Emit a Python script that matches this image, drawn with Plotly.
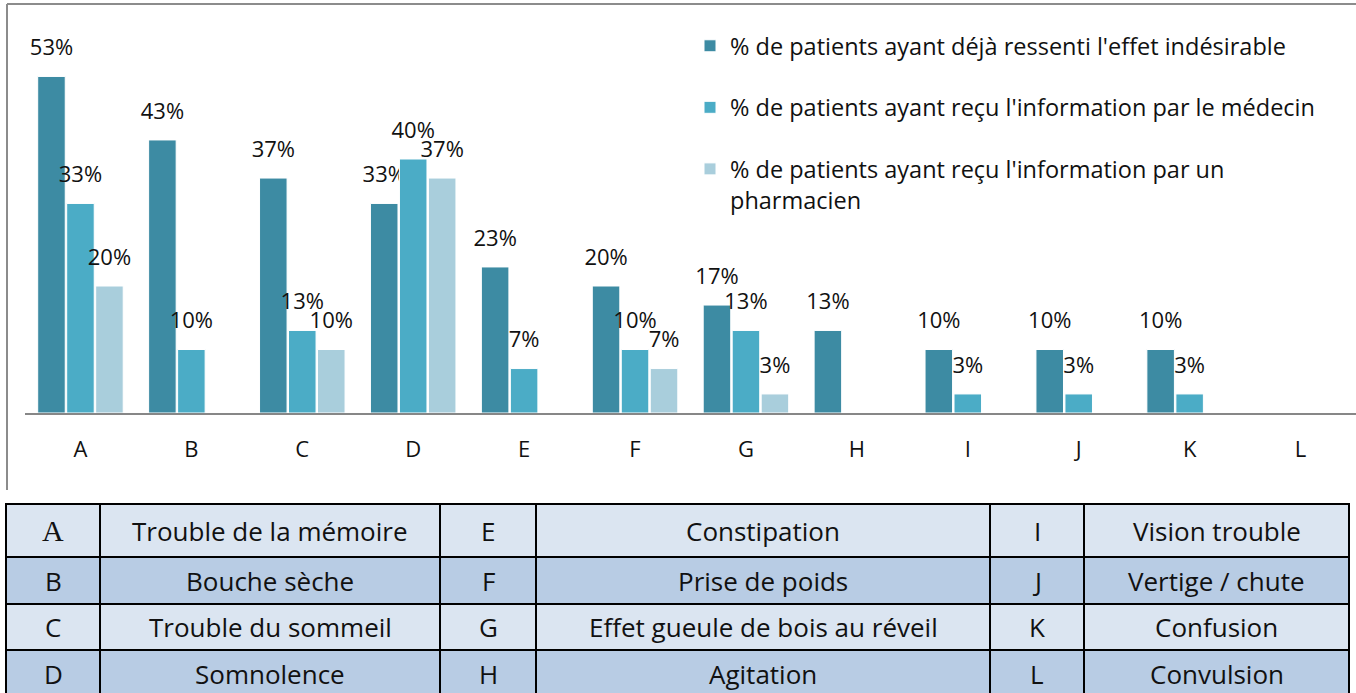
import plotly.graph_objects as go
from itertools import accumulate

# ---------------- data ----------------
categories = ["A", "B", "C", "D", "E", "F", "G", "H", "I", "J", "K", "L"]
series_names = [
    "% de patients ayant déjà ressenti l'effet indésirable",
    "% de patients ayant reçu l'information par le médecin",
    "% de patients ayant reçu l'information par un<br>pharmacien",
]
ressenti = [53, 43, 37, 33, 23, 20, 17, 13, 10, 10, 10, None]
info_medecin = [33, 10, 13, 40, 7, 10, 13, None, 3, 3, 3, None]
info_pharmacien = [20, None, 10, 37, None, 7, 3, None, None, None, None, None]

effets = [
    "Trouble de la mémoire", "Bouche sèche", "Trouble du sommeil", "Somnolence",
    "Constipation", "Prise de poids", "Effet gueule de bois au réveil", "Agitation",
    "Vision trouble", "Vertige / chute", "Confusion", "Convulsion",
]

# ---------------- styles ----------------
W, H = 1356, 693
FONT = "Open Sans"
TXT = "#111111"
colors = ["#3D8BA3", "#4BACC6", "#A9CEDC"]
LIGHT, DARK = "#DBE5F1", "#B8CCE4"
col_widths = [94, 340, 96, 454, 94, 265]   # table column widths (px)
row_heights = [53, 47, 46, 47]             # table row heights (px)
row_fills = [LIGHT, DARK, LIGHT, DARK]

fig = go.Figure()
label_tpl = ("<span style='font-size:22px'>%{y}%</span><br>"
             "<span style='font-size:1px'>\u00a0</span>")
for name, vals, col in zip(series_names, [ressenti, info_medecin, info_pharmacien], colors):
    fig.add_trace(go.Bar(
        x=categories, y=vals, name=name, legendgroup=name,
        marker=dict(color=col, line=dict(color="#FFFFFF", width=1)),
        texttemplate=label_tpl, textposition="outside", constraintext="none",
        textfont=dict(family=FONT, size=14, color=TXT),
        cliponaxis=False, hoverinfo="skip",
    ))

# ---------------- table (drawn on its own hidden axes) ----------------
columns = []
for i in (0, 4, 8):
    columns += [categories[i:i + 4], effets[i:i + 4]]

x_edges = [0] + list(accumulate(col_widths))
y_edges = [0] + list(accumulate(row_heights))
shapes = []
annotations = []
for ci, col in enumerate(columns):
    for ri, txt in enumerate(col):
        shapes.append(dict(
            type="rect", xref="x2", yref="y2",
            x0=x_edges[ci], x1=x_edges[ci + 1], y0=y_edges[ri], y1=y_edges[ri + 1],
            fillcolor=row_fills[ri], line=dict(color="#000000", width=2), layer="above",
        ))
        serif = (ci == 0 and ri == 0)
        annotations.append(dict(
            xref="x2", yref="y2", showarrow=False,
            x=(x_edges[ci] + x_edges[ci + 1]) / 2, y=(y_edges[ri] + y_edges[ri + 1]) / 2,
            text=txt, xanchor="center", yanchor="middle",
            font=dict(family="Liberation Serif" if serif else FONT,
                      size=30 if serif else 26, color=TXT),
        ))

# chart frame (partial border of the chart area)
shapes += [
    dict(type="line", xref="paper", yref="paper", x0=7 / W, x1=1, y0=1 - 4 / H, y1=1 - 4 / H,
         line=dict(color="#8C8C8C", width=2)),
    dict(type="line", xref="paper", yref="paper", x0=7 / W, x1=7 / W, y0=1 - 4 / H, y1=1 - 490 / H,
         line=dict(color="#8C8C8C", width=2)),
]

fig.update_layout(
    width=W, height=H, autosize=False,
    margin=dict(l=0, r=0, t=0, b=0, pad=0),
    paper_bgcolor="white", plot_bgcolor="white",
    barmode="group", bargap=0.216, bargroupgap=0.05,
    font=dict(family=FONT, color=TXT),
    showlegend=True,
    legend=dict(
        x=690 / W, y=1 - 24 / H, xanchor="left", yanchor="top",
        font=dict(family=FONT, size=23.5, color=TXT),
        tracegroupgap=28, valign="top", bgcolor="rgba(0,0,0,0)",
    ),
    xaxis=dict(
        domain=[25 / W, 1], type="category", categoryorder="array",
        categoryarray=categories, range=[-0.5, 11.5],
        showline=True, linecolor="#878787", linewidth=2,
        showgrid=False, zeroline=False, ticks="", ticklabelstandoff=16,
        tickfont=dict(family=FONT, size=22, color=TXT),
        automargin=False, fixedrange=True,
    ),
    yaxis=dict(
        domain=[1 - 413 / H, 1 - 32 / H], range=[0, 60],
        visible=False, showgrid=False, zeroline=False, automargin=False,
        fixedrange=True,
    ),
    xaxis2=dict(
        domain=[5 / W, 1351 / W], range=[-1, sum(col_widths) + 2], anchor="y2",
        visible=False, fixedrange=True, showgrid=False, zeroline=False,
    ),
    yaxis2=dict(
        domain=[0, 1 - 502 / H], range=[189, -2], anchor="x2",
        visible=False, fixedrange=True, showgrid=False, zeroline=False,
    ),
    shapes=shapes,
    annotations=annotations,
)

fig.write_html("out.html", config={"displayModeBar": False},
               post_script="document.body.style.margin='0';")
